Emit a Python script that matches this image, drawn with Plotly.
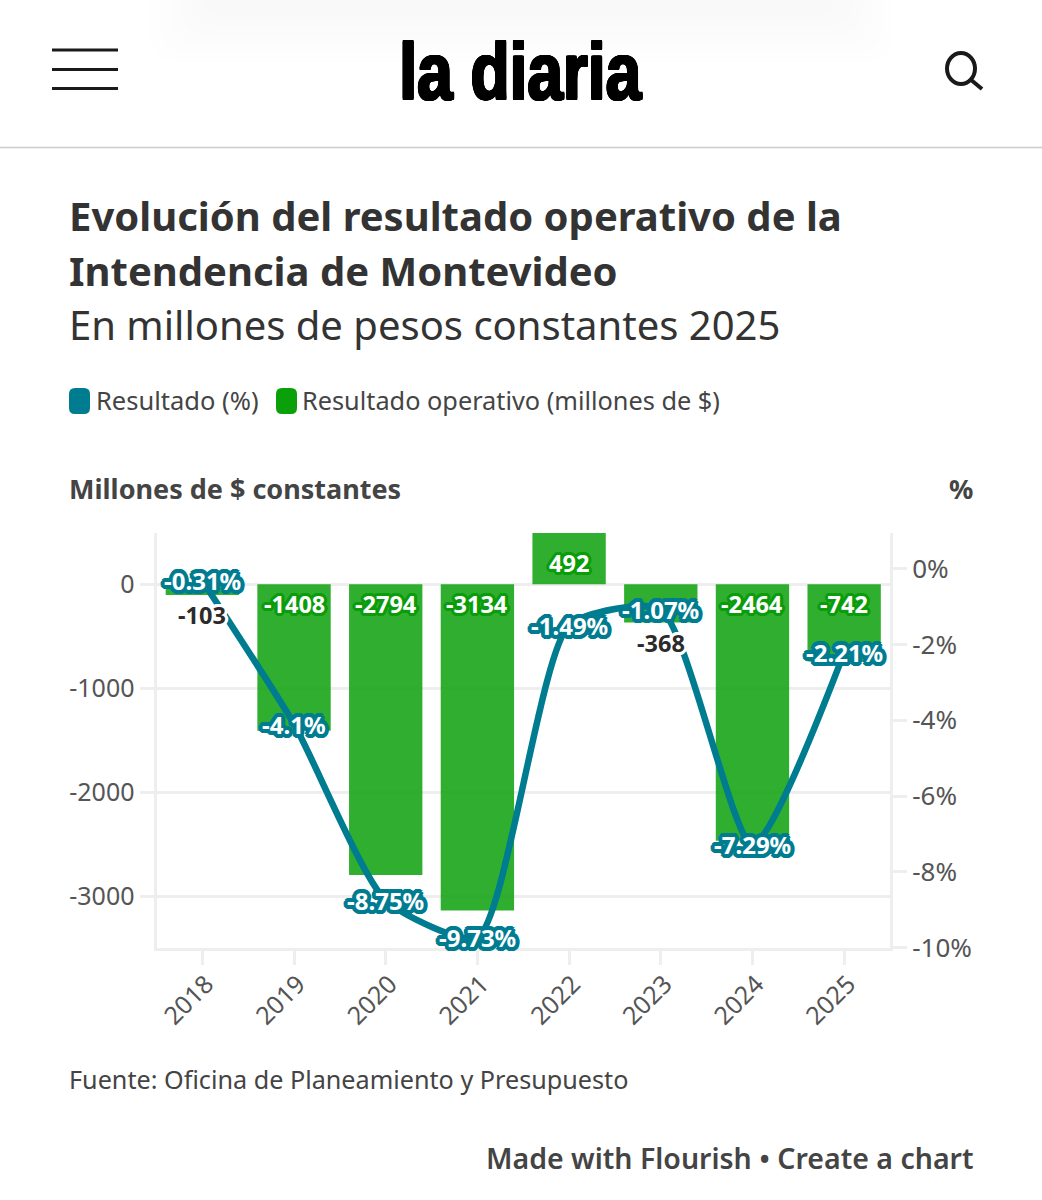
import plotly.graph_objects as go

WIDTH, HEIGHT = 1042, 1200

# Chart data
years = ["2018", "2019", "2020", "2021", "2022", "2023", "2024", "2025"]
resultado_millones = [-103, -1408, -2794, -3134, 492, -368, -2464, -742]
resultado_pct = [-0.31, -4.1, -8.75, -9.73, -1.49, -1.07, -7.29, -2.21]
pct_labels = ["-0.31%", "-4.1%", "-8.75%", "-9.73%", "-1.49%", "-1.07%", "-7.29%", "-2.21%"]
left_ticks = [0, -1000, -2000, -3000]
left_tick_labels = ["0", "-1000", "-2000", "-3000"]
right_ticks = [0, -2, -4, -6, -8, -10]
right_tick_labels = ["0%", "-2%", "-4%", "-6%", "-8%", "-10%"]

# Palette and fonts
TEAL = "#007c91"
GREEN = "#0aa00a"
INK = "#333333"
AXIS = "#eeeeee"
TICK_TEXT = "#555555"
BODY_FONT = "Noto Sans"


def fx(px):
    return px / WIDTH


def fy(px):
    return 1 - px / HEIGHT


def halo(color, r=2.0):
    d = round(r * 0.7, 1)
    e = round(r * 0.92, 1)
    f = round(r * 0.38, 1)
    offsets = [(-r, 0), (r, 0), (0, -r), (0, r), (-d, -d), (d, d), (-d, d), (d, -d),
               (e, f), (e, -f), (-e, f), (-e, -f), (f, e), (f, -e), (-f, e), (-f, -e)]
    return ", ".join(f"{a}px {b}px 0 {color}" for a, b in offsets)


def page_text(text, x, y, size, color=INK, weight=400, anchor="left", family=BODY_FONT, shadow=None):
    font = dict(family=family, size=size, color=color, weight=weight)
    if shadow:
        font["shadow"] = shadow
    return dict(
        text=text, x=fx(x), y=fy(y), xref="paper", yref="paper",
        xanchor=anchor, yanchor="middle", showarrow=False, font=font,
        borderpad=0, borderwidth=0,
    )


def rounded_box(x0, y0, x1, y1, r, color, opacity=1.0):
    X0, X1, Y0, Y1 = fx(x0), fx(x1), fy(y0), fy(y1)
    rx, ry = r / WIDTH, r / HEIGHT
    path = (
        f"M {X0 + rx} {Y0} L {X1 - rx} {Y0} Q {X1} {Y0} {X1} {Y0 - ry} "
        f"L {X1} {Y1 + ry} Q {X1} {Y1} {X1 - rx} {Y1} L {X0 + rx} {Y1} "
        f"Q {X0} {Y1} {X0} {Y1 + ry} L {X0} {Y0 - ry} Q {X0} {Y0} {X0 + rx} {Y0} Z"
    )
    return dict(type="path", path=path, xref="paper", yref="paper", layer="below",
                fillcolor=color, opacity=opacity, line=dict(width=0))


def rule(x0, y0, x1, y1, color, width):
    return dict(type="line", x0=fx(x0), x1=fx(x1), y0=fy(y0), y1=fy(y1),
                xref="paper", yref="paper", line=dict(color=color, width=width))


fig = go.Figure()

fig.add_trace(go.Bar(
    x=years, y=resultado_millones, name="Resultado operativo (millones de $)",
    marker=dict(color=GREEN, opacity=0.85, line=dict(width=0)), yaxis="y",
))
fig.add_trace(go.Scatter(
    x=years, y=resultado_pct, name="Resultado (%)", mode="lines", yaxis="y2",
    line=dict(color=TEAL, width=6.5, shape="spline", smoothing=0.6), cliponaxis=True,
))

annotations = []

# Value labels for the bars: white on green inside, dark on white for short bars.
# Category axes take annotation positions as the category index.
for i, value in enumerate(resultado_millones):
    if value > 0:
        anchor_y, shift = 0, 21
        color, glow = "#ffffff", halo("#0a9c0a", 3)
    elif value < -500:
        anchor_y, shift = 0, -20
        color, glow = "#ffffff", halo("#0a9c0a", 3)
    else:
        anchor_y, shift = value, -20
        color, glow = "#2b2b2b", halo("#ffffff", 3)
    annotations.append(dict(
        text=str(value), x=i, y=anchor_y, xref="x", yref="y", yshift=shift,
        xanchor="center", yanchor="middle", showarrow=False,
        font=dict(family=BODY_FONT, size=23.5, color=color, weight=700, shadow=glow),
    ))

# Percentage labels sitting on the line
for i, (value, label) in enumerate(zip(resultado_pct, pct_labels)):
    annotations.append(dict(
        text=label, x=i, y=value, xref="x", yref="y2", yshift=0,
        xanchor="center", yanchor="middle", showarrow=False,
        font=dict(family=BODY_FONT, size=24, color="#ffffff", weight=700, shadow=halo(TEAL, 4)),
    ))

# Page furniture, titles, legend and footer
annotations += [
    page_text("la diaria", 520, 71, 80, color="#000000", weight=700, anchor="center",
              family="Liberation Sans", shadow=halo("#000000", 1.2)),
    page_text("Evolución del resultado operativo de la", 69, 215, 40, weight=700),
    page_text("Intendencia de Montevideo", 69, 270, 40, weight=700),
    page_text("En millones de pesos constantes 2025", 69, 325, 40),
    page_text("Resultado (%)", 96, 400, 25.5, color="#444444"),
    page_text("Resultado operativo (millones de $)", 302, 400, 25.3, color="#444444"),
    page_text("Millones de $ constantes", 69, 488, 27, weight=700, color="#444444"),
    page_text("%", 973, 488, 27, weight=700, color="#444444", anchor="right"),
    page_text("Fuente: Oficina de Planeamiento y Presupuesto", 69, 1079, 25.2, color="#444444"),
    page_text("Made with Flourish • Create a chart", 974, 1158, 28.5, weight=600, color="#444444",
              anchor="right"),
]

# Soft shadow along the top of the page, built from nested faint layers
page_shadow = [
    rounded_box(150 + 10 * step, -30, 893 - 10 * step, 62 - 9 * step, 30, "#f4f4f4", 0.1)
    for step in range(6)
]

shapes = page_shadow + [
    # header icons and divider
    rule(52, 50, 118, 50, "#1a1a1a", 3),
    rule(52, 69.5, 118, 69.5, "#1a1a1a", 3),
    rule(52, 88.5, 118, 88.5, "#1a1a1a", 3),
    dict(type="circle", x0=fx(947), x1=fx(975), y0=fy(53), y1=fy(84), xref="paper", yref="paper",
         line=dict(color="#1a1a1a", width=4)),
    rule(970, 79, 982, 89, "#1a1a1a", 4),
    rule(0, 147.5, WIDTH, 147.5, "#cccccc", 1.5),
    # legend swatches
    rounded_box(69, 388, 90, 414, 6, TEAL),
    rounded_box(276, 388, 297, 414, 6, GREEN),
]

fig.update_layout(
    width=WIDTH, height=HEIGHT, autosize=False,
    margin=dict(l=0, r=0, t=0, b=0, pad=0, autoexpand=False),
    paper_bgcolor="#ffffff", plot_bgcolor="#ffffff",
    showlegend=False, bargap=0.2,
    annotations=annotations, shapes=shapes,
    font=dict(family=BODY_FONT),
    xaxis=dict(
        domain=[fx(156.5), fx(890)], range=[-0.5, 7.5], type="category",
        showgrid=False, zeroline=False,
        showline=True, linecolor=AXIS, linewidth=3,
        ticks="outside", ticklen=14, tickwidth=3, tickcolor=AXIS,
        tickangle=-45, ticklabelstandoff=-5, ticklabelshift=4,
        tickfont=dict(family=BODY_FONT, size=25, color=TICK_TEXT),
    ),
    yaxis=dict(
        domain=[fy(947.5), fy(533)], range=[-3490, 492],
        tickvals=left_ticks, ticktext=left_tick_labels,
        showgrid=True, gridcolor=AXIS, gridwidth=3, zeroline=False,
        showline=True, linecolor=AXIS, linewidth=3,
        ticks="outside", ticklen=14, tickwidth=3, tickcolor=AXIS,
        tickfont=dict(family=BODY_FONT, size=25, color=TICK_TEXT),
    ),
    yaxis2=dict(
        overlaying="y", side="right", anchor="x", range=[-10, 0.95],
        tickvals=right_ticks, ticktext=right_tick_labels,
        showgrid=False, zeroline=False,
        showline=True, linecolor=AXIS, linewidth=3,
        ticks="outside", ticklen=14, tickwidth=3, tickcolor=AXIS,
        tickfont=dict(family=BODY_FONT, size=26, color=TICK_TEXT),
    ),
)

# The masthead wordmark is a tightly condensed face: narrow the bold sans to suit.
condense_wordmark = """
document.querySelectorAll('.annotation-text').forEach(function (t) {
  if (t.textContent === 'la diaria') {
    t.style.transformBox = 'fill-box';
    t.style.transformOrigin = 'center';
    t.style.transform = 'scaleX(0.8)';
  }
});
"""

fig.write_html("out.html", post_script=condense_wordmark)
